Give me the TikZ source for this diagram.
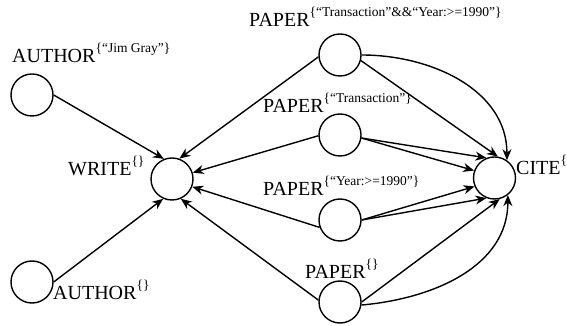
\documentclass[tikz,border=0pt]{standalone}
\usepackage{fontspec}
\setmainfont{Liberation Serif}
\usetikzlibrary{positioning,arrows.meta}
\newcommand{\attr}[2]{#1\raisebox{10pt}{\fontsize{13.5}{14}\selectfont\{#2\}}}

\begin{document}
\begin{tikzpicture}[x=1pt,y=1pt,
  vertex/.style={draw,circle,line width=1.4pt,minimum size=42pt,inner sep=0pt},
  lbl/.style={anchor=base west,inner sep=0pt,font=\fontsize{20}{24}\selectfont},
  link/.style={line width=1.4pt,-{Stealth[length=11pt,width=9pt,inset=3.5pt]}}]
  \useasboundingbox (0,0) rectangle (567,326);

  % vertices
  \node[vertex] (author1) at (32,231) {};
  \node[vertex] (author2) at (32,44) {};
  \node[vertex] (write) at (172,147) {};
  \node[vertex] (paper1) at (340,271) {};
  \node[vertex] (paper2) at (340,191) {};
  \node[vertex] (paper3) at (340,106) {};
  \node[vertex] (paper4) at (340,24) {};
  \node[vertex] (cite) at (494.5,148) {};

  % labels
  \node[lbl] (lauthor1) at (12,263) {\attr{AUTHOR}{“Jim Gray”}};
  \node[lbl] (lauthor2) at (53,26) {\attr{AUTHOR}{}};
  \node[lbl] (lwrite) at (68,150) {\attr{WRITE}{}};
  \node[lbl] (lpaper1) at (249,299) {\attr{PAPER}{“Transaction”\&\&“Year:>=1990”}};
  \node[lbl] (lpaper2) at (263,213) {\attr{PAPER}{“Transaction”}};
  \node[lbl] (lpaper3) at (263,130) {\attr{PAPER}{“Year:>=1990”}};
  \node[lbl] (lpaper4) at (305,47) {\attr{PAPER}{}};
  \node[lbl] (lcite) at (516,151) {\attr{CITE}{}};

  % edges into WRITE
  \draw[link] (author1.east) -- (write.112);
  \draw[link] (author2.east) -- (write.-114);
  \draw[link] (paper1.185) -- (write.70);
  \draw[link] (paper2.182) -- (write.17);
  \draw[link] (paper3.200) -- (write.-21);
  \draw[link] (paper4.175) -- (write.-66);

  % edges into CITE
  \draw[link] (paper1.-15) -- (cite.81);
  \draw[link] (paper1.east) to[out=0,in=90] (cite.55);
  \draw[link] (paper2.-8) -- (cite.112);
  \draw[link] (paper2.-8) -- (cite.160);
  \draw[link] (paper3.east) -- (cite.203);
  \draw[link] (paper3.east) -- (cite.-112);
  \draw[link] (paper4.east) -- (cite.-76);
  \draw[link] (paper4.-8) to[out=5,in=-90] (cite.-52);
\end{tikzpicture}
\end{document}
